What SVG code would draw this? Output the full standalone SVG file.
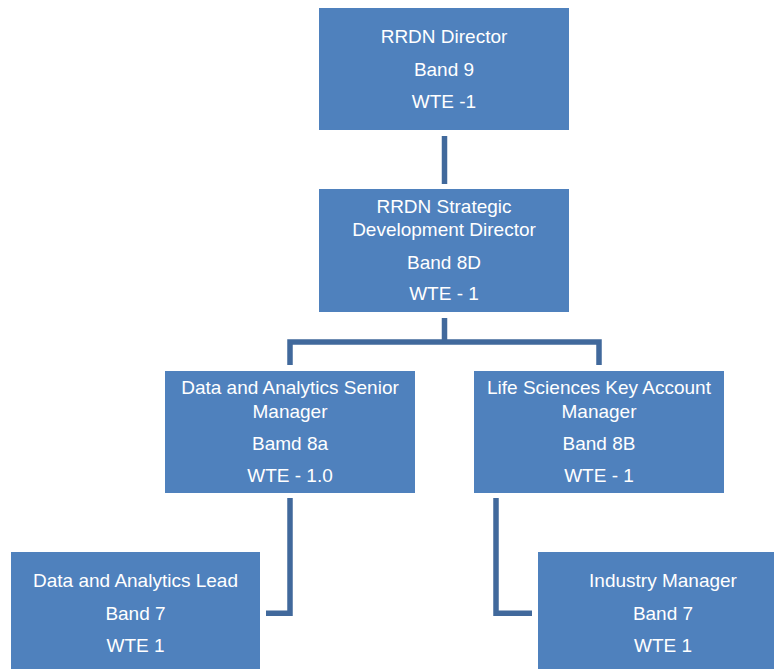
<svg xmlns="http://www.w3.org/2000/svg" width="774" height="669" viewBox="0 0 774 669">
<style>
.box{fill:#4F81BD;}
.t{font-family:"Liberation Sans",Arial,sans-serif;font-size:19px;fill:#FFFFFF;text-anchor:middle;}
.c{fill:none;stroke:#41699C;stroke-width:5.5;stroke-linejoin:miter;stroke-linecap:butt;}
</style>
<rect width="774" height="669" fill="#FFFFFF"/>
<g id="connectors">
<path class="c" d="M444.5 136 V184"/>
<path class="c" d="M444.5 318 V342 M290 365 V342 H599 V365"/>
<path class="c" d="M290 498 V613.3 H266"/>
<path class="c" d="M496 498 V613.3 H532"/>
</g>
<g id="n1">
<rect class="box" x="319" y="8" width="250" height="122"/>
<text class="t" x="444" y="43">RRDN Director</text>
<text class="t" x="444" y="76">Band 9</text>
<text class="t" x="444" y="108">WTE -1</text>
</g>
<g id="n2">
<rect class="box" x="319" y="189" width="250" height="123"/>
<text class="t" x="444" y="213">RRDN Strategic</text>
<text class="t" x="444" y="236">Development Director</text>
<text class="t" x="444" y="269">Band 8D</text>
<text class="t" x="444" y="300">WTE - 1</text>
</g>
<g id="n3">
<rect class="box" x="165" y="371" width="250" height="122"/>
<text class="t" x="290" y="394">Data and Analytics Senior</text>
<text class="t" x="290" y="418">Manager</text>
<text class="t" x="290" y="450">Bamd 8a</text>
<text class="t" x="290" y="482">WTE - 1.0</text>
</g>
<g id="n4">
<rect class="box" x="474" y="371" width="250" height="122"/>
<text class="t" x="599" y="394">Life Sciences Key Account</text>
<text class="t" x="599" y="418">Manager</text>
<text class="t" x="599" y="450">Band 8B</text>
<text class="t" x="599" y="482">WTE - 1</text>
</g>
<g id="n5">
<rect class="box" x="11" y="552" width="249" height="122"/>
<text class="t" x="135.5" y="587">Data and Analytics Lead</text>
<text class="t" x="135.5" y="620">Band 7</text>
<text class="t" x="135.5" y="652">WTE 1</text>
</g>
<g id="n6">
<rect class="box" x="538" y="552" width="250" height="122"/>
<text class="t" x="663" y="587">Industry Manager</text>
<text class="t" x="663" y="620">Band 7</text>
<text class="t" x="663" y="652">WTE 1</text>
</g>
</svg>
